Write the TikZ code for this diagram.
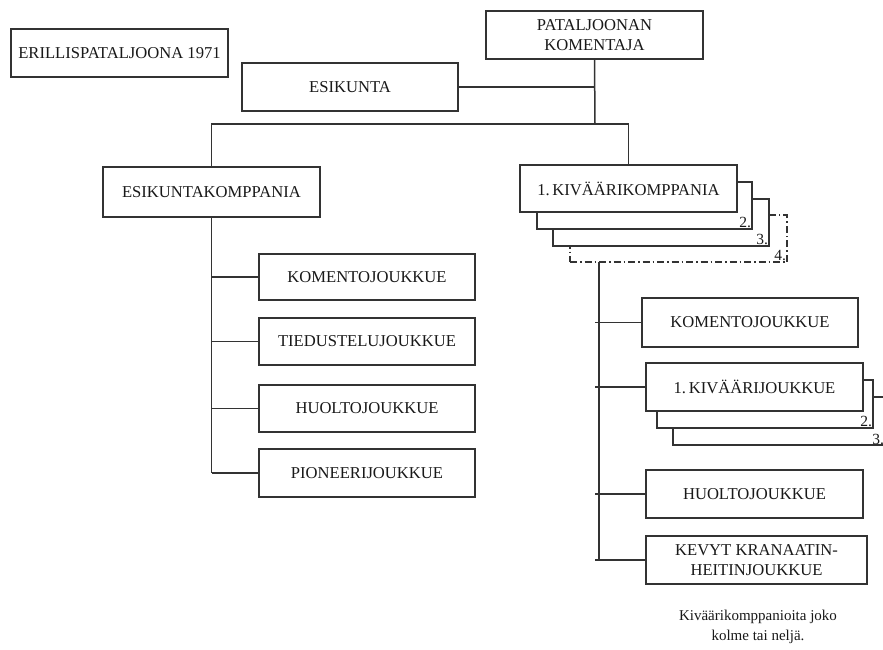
\documentclass[tikz,border=0pt]{standalone}
\usepackage{fontspec}
\setmainfont{Liberation Serif}
\begin{document}
\begin{tikzpicture}[x=1pt,y=-1pt,
  box/.style={draw=black!80, line width=1.5pt, fill=white, inner sep=0pt, align=center,
    font=\fontsize{16.6}{19.5}\selectfont, text=black!90},
  link/.style={draw=black!80, line width=1.5pt},
  dashdotted box/.style={box, dash pattern=on 7pt off 3pt on 1.5pt off 3pt},
  num/.style={font=\fontsize{15.5}{15.5}\selectfont, inner sep=1.5pt, anchor=south east, text=black!90}]
\clip (0,0) rectangle (883,650);
\fill[white] (0,0) rectangle (883,650);

% title
\node[box, minimum width=217pt, minimum height=48pt] (erill) at (119.5,53) {ERILLISPATALJOONA 1971};

% top
\node[box, minimum width=217pt, minimum height=48pt] (komentaja) at (594.5,35) {PATALJOONAN\\KOMENTAJA};
\node[box, minimum width=216pt, minimum height=48pt] (esikunta) at (350,87) {ESIKUNTA};

% second level
\node[box, minimum width=217pt, minimum height=50pt] (ek) at (211.5,192) {ESIKUNTAKOMPPANIA};

\node[dashdotted box, minimum width=217pt, minimum height=47pt] (kk4) at (678.5,238.5) {};
\node[num] at (kk4.south east) {4.};
\node[box, minimum width=216pt, minimum height=47pt] (kk3) at (661,222.5) {};
\node[num] at (kk3.south east) {3.};
\node[box, minimum width=215pt, minimum height=47pt] (kk2) at (644.5,205.5) {};
\node[num] at (kk2.south east) {2.};
\node[box, minimum width=217pt, minimum height=47pt] (kk1) at (628.5,188.5) {1.\,KIVÄÄRIKOMPPANIA};

% left column
\node[box, minimum width=216pt, minimum height=46pt] (lk) at (367,277) {KOMENTOJOUKKUE};
\node[box, minimum width=216pt, minimum height=47pt] (lt) at (367,341.5) {TIEDUSTELUJOUKKUE};
\node[box, minimum width=216pt, minimum height=47pt] (lh) at (367,408.5) {HUOLTOJOUKKUE};
\node[box, minimum width=216pt, minimum height=48pt] (lp) at (367,473) {PIONEERIJOUKKUE};

% right column
\node[box, minimum width=216pt, minimum height=49pt] (rk) at (750,322.5) {KOMENTOJOUKKUE};
\node[box, minimum width=218pt, minimum height=48pt] (rj3) at (782,421) {};
\node[num, inner sep=0.5pt, xshift=-7pt] at (rj3.south east) {3.};
\node[box, minimum width=216pt, minimum height=48pt] (rj2) at (765,404) {};
\node[num] at (rj2.south east) {2.};
\node[box, minimum width=217pt, minimum height=48pt] (rj1) at (754.5,387) {1.\,KIVÄÄRIJOUKKUE};
\node[box, minimum width=217pt, minimum height=48pt] (rh) at (754.5,494) {HUOLTOJOUKKUE};
\node[box, minimum width=221pt, minimum height=48pt] (rv) at (756.5,560) {KEVYT KRANAATIN-\\HEITINJOUKKUE};

% note
\node[font=\fontsize{15}{19.5}\selectfont, align=center, text=black!90] (note) at (758,627)
  {Kiväärikomppanioita joko\\kolme tai neljä.};

% connectors
\coordinate (hub) at (595,124);
\coordinate (busl) at (211.5,124);
\coordinate (busr) at (628.5,124);
\draw[link] (komentaja.south) -- (hub);
\draw[link] (esikunta.east) -- (esikunta.east -| hub);
\draw[link] (ek.north) -- (busl) -- (busr) -- (kk1.north);

\coordinate (lbot) at (211.5,473);
\draw[link] (ek.south) -- (lbot);
\draw[link] (lk.west) -- (lk.west -| lbot);
\draw[link] (lt.west) -- (lt.west -| lbot);
\draw[link] (lh.west) -- (lh.west -| lbot);
\draw[link] (lp.west) -- (lbot);

\coordinate (rtop) at (599,262);
\coordinate (rbot) at (599,560);
\draw[link] (rtop) -- (rbot);
\draw[link] (rk.west) -- ([xshift=-4pt]rk.west -| rtop);
\draw[link] (rj1.west) -- ([xshift=-4pt]rj1.west -| rtop);
\draw[link] (rh.west) -- ([xshift=-4pt]rh.west -| rtop);
\draw[link] (rv.west) -- ([xshift=-4pt]rv.west -| rtop);
\end{tikzpicture}
\end{document}
